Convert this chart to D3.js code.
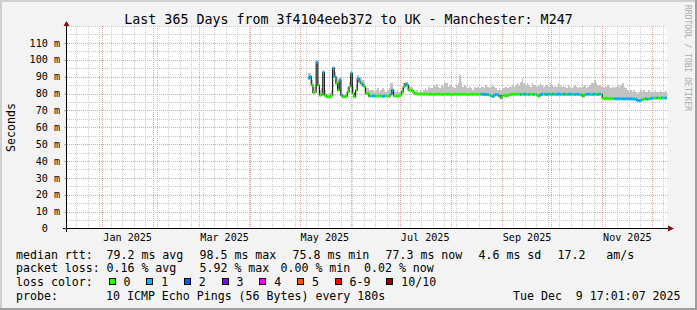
<!DOCTYPE html>
<html><head><meta charset="utf-8">
<script src="https://cdn.jsdelivr.net/npm/d3@7"></script>
<style>
html,body{margin:0;padding:0;background:#f3f3f3;}
svg{display:block;}
text{font-family:"DejaVu Sans Mono",monospace;white-space:pre;}
</style></head><body>
<svg id="chart" width="697" height="310" xml:space="preserve"></svg>
<script>
// ---------------- data ----------------
const title = "Last 365 Days from 3f4104eeb372 to UK - Manchester: M247";
const yAxisLabel = "Seconds";
const watermark = "RRDTOOL / TOBI OETIKER";
const timeStart = "2024-12-10T10:00:00";
const timeEnd = "2025-12-10T10:00:00";
const seriesStart = "2025-05-06T00:00:00";   // one value per day from here
const yTicks = [0,10,20,30,40,50,60,70,80,90,100,110];
const monthTickLabels = ["Jan 2025","Mar 2025","May 2025","Jul 2025","Sep 2025","Nov 2025"];

// median rtt (ms), daily
const median = [
89,90,85,80.5,81,98.5,85,79,79.5,92.5,
79,78,78,78,79,95,90,86,82,88,
79,78,78,78.5,81,84,92,80,78,82,
89,87,86,85,84,80,80,78.5,78.5,78.5,
78.6,78.4,78.5,78.5,78.6,78.3,78.5,78.6,78.5,78.4,
79.5,82,78.6,78.5,78.4,78.6,79,81,84,85.5,
85,82,82,81.5,80.5,79.8,79.7,79.6,79.6,79.7,
79.5,79.6,79.6,79.5,79.6,79.6,79.4,79.5,79.6,79.5,
79.6,79.4,79.5,79.6,79.5,79.6,79.5,79.5,79.4,79.6,
79.5,79.5,79.6,79.4,79.5,79.6,79.5,79.4,79.5,79.6,
79.5,79.6,79.5,79.4,79.6,79.5,79.6,79.3,79.5,79.4,
79.0,78.6,78.2,79.0,79.4,79.2,78.6,77.4,78.8,79.0,
78.6,78.8,79.2,79.4,79.5,79.6,79.5,79.6,79.5,79.4,
79.6,79.5,79.6,79.5,79.4,79.6,79.5,79.4,79.6,79.0,
78.4,79.2,79.5,79.6,79.5,79.4,79.6,79.5,79.5,79.6,
79.4,79.5,79.6,79.5,79.4,79.5,79.6,79.4,79.5,79.6,
79.5,79.5,79.4,79.6,79.5,79.4,79.0,78.4,79.3,79.5,
79.6,79.5,79.4,79.5,79.6,79.5,79.4,79.6,79.5,77.2,
77.0,77.1,76.9,77.0,77.1,77.0,76.9,76.8,76.9,76.8,
76.9,76.8,76.7,76.9,76.8,76.9,76.8,76.7,76.8,76.6,
75.9,75.8,76.0,76.3,76.8,76.9,76.6,76.8,77.0,77.2,
77.3,77.2,77.4,77.3,77.2,77.4,77.3,77.3,77.3
];
// upper edge of the ping smoke (ms), daily
const smokeHigh = [
92,92,88,84,85,100,88,82,83,94,
82,80,80,80.5,82,96,93,90,86,90,
82,80,80,81,84,87,94,84,81,85,
91,90,89,88,87,83,83,82,82,82,
81,82,83,81,82,83,82,81,82,83,
86,86,82,81,82,81,82,83,86,87,
87,85,84,84,82,81,82,81,82,81,
82,83,82,84,83,83,85,84,85.5,84,
83,85,84,86,86.5,84,85,84,84,83,
85,86,91,87,84,85,84,83,84,83,
82,84,83,84,83,84,84,83,85,84,
83,84,85,84,83,82,83,82,83,83,
84,83,84,84,85,84,85,86,85,87,
89,86,85,86,85,84,86,85,85,84,
85,86,85,84,85,85,84,86,85,84,
85,84,86,85,84,85,84,83,85,84,
83,84,85,84,83,84,83,84,85,83,
84,85,86,86,88,86,85,85,84,84,
83,84,85,84,83,84,83,84,85,84,
85,86,84,83,82,81,82,81,82,81,
80,81,82,81,82,81,81,82,81,82,
81,82,81,81,82,81,81,82,81
];
// loss colour class per day (index into lossLabels)
const lossClass = [
1,1,0,0,0,1,0,0,0,1,
0,0,0,0,0,1,1,0,0,1,
1,0,0,0,0,0,1,0,0,0,
1,1,0,1,0,0,0,1,0,1,
1,0,0,0,0,1,1,0,0,0,
1,1,0,0,0,0,0,0,0,1,
1,0,0,0,0,0,0,0,0,0,
0,0,0,0,0,0,0,0,0,0,
0,0,0,0,0,0,0,0,0,0,
0,0,0,0,0,0,0,0,0,0,
0,0,0,0,0,1,1,1,1,1,
0,0,1,1,1,1,1,0,0,0,
0,0,0,0,0,0,0,0,0,1,
0,1,1,0,1,0,0,1,0,0,
0,1,1,0,1,1,1,0,1,1,
0,1,1,1,0,1,1,0,1,1,
1,0,1,1,1,0,1,0,0,1,
1,1,0,1,1,0,1,1,0,0,
0,0,0,0,0,0,1,1,1,1,
1,1,1,1,1,1,1,1,1,1,
1,1,1,0,0,1,1,0,1,1,
0,0,1,0,0,1,0,1,1
];
const lossLabels = ["0","1","2","3","4","5","6-9","10/10"];
const lossColors = ["#26ff00","#00b8ff","#0059ff","#7e00ff","#ff00ff","#ff5500","#ff0000","#a10000"];
const rttValues = [79.2, 98.5, 75.8, 77.3];
const rttKinds = ["avg","max","min","now"];
const rttSd = 4.6;
const rttAmS = 17.2;
const lossValues = [0.16, 5.92, 0.00, 0.02];
const lossKinds = ["avg","max","min","now"];
const probeText = "10 ICMP Echo Pings (56 Bytes) every 180s";
const stampText = "Tue Dec  9 17:01:07 2025";

// ---------------- drawing ----------------
const W = 697, H = 310;
const svg = d3.select("#chart");
const X0 = 67, X1 = 667;
const x = d3.scaleTime().domain([new Date(timeStart), new Date(timeEnd)]).range([X0, X1]);
const y = d3.scaleLinear().domain([0, 120]).range([228.5, 26]);
const px = v => Math.round(v) + 0.5;

// background + frame
svg.append("rect").attr("width", W).attr("height", H).attr("fill", "#f3f3f3");
svg.append("rect").attr("x", 0).attr("y", 0).attr("width", W).attr("height", 2).attr("fill", "#cfcfcf");
svg.append("rect").attr("x", 0).attr("y", 0).attr("width", 2).attr("height", H).attr("fill", "#cfcfcf");
svg.append("rect").attr("x", W - 2).attr("y", 0).attr("width", 2).attr("height", H).attr("fill", "#9e9e9e");
svg.append("rect").attr("x", 0).attr("y", H - 2).attr("width", W).attr("height", 2).attr("fill", "#9e9e9e");

// canvas
const yTop = y(120), yBot = y(0);
svg.append("rect").attr("x", X0).attr("y", Math.round(yTop)).attr("width", X1 - X0)
  .attr("height", Math.round(yBot) - Math.round(yTop)).attr("fill", "#ffffff");

const grid = svg.append("g");
// minor horizontal (every 5 ms)
const minorY = d3.range(5, 121, 5).filter(v => v % 10 !== 0 || v === 120);
grid.selectAll(".hmin").data(minorY).join("line")
  .attr("x1", X0).attr("x2", X1).attr("y1", d => px(y(d))).attr("y2", d => px(y(d)))
  .attr("stroke", "#c8c8c8").attr("stroke-dasharray", "1,1");
// minor vertical (weekly)
const weeks = d3.timeMonday.range(x.domain()[0], x.domain()[1]);
grid.selectAll(".vmin").data(weeks).join("line")
  .attr("x1", d => px(x(d))).attr("x2", d => px(x(d))).attr("y1", Math.round(yTop)).attr("y2", yBot)
  .attr("stroke", "#c8c8c8").attr("stroke-dasharray", "1,1");
// major horizontal
const majorY = yTicks.filter(v => v > 0);
grid.selectAll(".hmaj").data(majorY).join("line")
  .attr("x1", X0 - 2).attr("x2", X1 + 2).attr("y1", d => px(y(d))).attr("y2", d => px(y(d)))
  .attr("stroke", "#f09a9a").attr("stroke-dasharray", "1,1");
// major vertical (monthly)
const months = d3.timeMonth.range(x.domain()[0], x.domain()[1]);
grid.selectAll(".vmaj").data(months).join("line")
  .attr("x1", d => px(x(d))).attr("x2", d => px(x(d))).attr("y1", Math.round(yTop)).attr("y2", yBot)
  .attr("stroke", "#f09a9a").attr("stroke-dasharray", "1,1");

// series
const t0 = new Date(seriesStart);
const days = median.map((_, i) => d3.timeDay.offset(t0, i));
const xs = i => x(days[i]);
const xe = i => Math.min(X1, x(d3.timeDay.offset(days[i], 1)));

// smoke
svg.append("g").selectAll("rect").data(median).join("rect")
  .attr("x", (d, i) => xs(i)).attr("width", (d, i) => xe(i) - xs(i))
  .attr("y", (d, i) => y(smokeHigh[i])).attr("height", (d, i) => Math.max(0, y(d) - y(smokeHigh[i])))
  .attr("fill", "#c2c2c2").attr("shape-rendering", "crispEdges");

// black median line (step)
const pts = median.map((d, i) => [xs(i), y(d)]);
pts.push([xe(median.length - 1), y(median[median.length - 1])]);
svg.append("path").attr("d", d3.line().curve(d3.curveStepAfter)(pts))
  .attr("fill", "none").attr("stroke", "#202020").attr("stroke-width", 1.2);

// coloured median band
svg.append("g").selectAll("rect").data(median).join("rect")
  .attr("x", (d, i) => xs(i)).attr("width", (d, i) => xe(i) - xs(i))
  .attr("y", d => y(d) - 1.5).attr("height", 3)
  .attr("fill", (d, i) => lossColors[lossClass[i]]);

// axes lines
svg.append("line").attr("x1", X0 - 4).attr("x2", X1 + 3).attr("y1", 228.5).attr("y2", 228.5)
  .attr("stroke", "#000").attr("stroke-width", 1);
svg.append("line").attr("x1", 66.5).attr("x2", 66.5).attr("y1", 232).attr("y2", 24)
  .attr("stroke", "#000").attr("stroke-width", 1);
svg.append("path").attr("d", "M668,225.5L674,228.5L668,231.5Z").attr("fill", "#7f1010");
svg.append("path").attr("d", "M63.5,26L66.5,21L69.5,26Z").attr("fill", "#7f1010");

// y axis labels via d3 axis
const yAxis = d3.axisLeft(y).tickValues(yTicks)
  .tickFormat(d => d === 0 ? "0  " : d + " m").tickSize(2).tickPadding(4.5);
const gy = svg.append("g").attr("transform", "translate(66.5,0)").call(yAxis);
gy.select(".domain").remove();
gy.selectAll(".tick line").attr("stroke", "#d08080");
gy.selectAll(".tick text").attr("font-family", "DejaVu Sans Mono").attr("font-size", "10.1px")
  .attr("fill", "#000").attr("xml:space", "preserve");

// x axis labels via d3 axis (labels centred half a month after the month start)
const parseM = d3.timeParse("%b %Y");
const labelDates = monthTickLabels.map(s => d3.timeDay.offset(parseM(s), 15));
const xAxis = d3.axisBottom(x).tickValues(labelDates).tickFormat(d3.timeFormat("%b %Y"))
  .tickSize(0).tickPadding(5);
const gx = svg.append("g").attr("transform", "translate(0,228.5)").call(xAxis);
gx.select(".domain").remove();
gx.selectAll(".tick text").attr("font-family", "DejaVu Sans Mono").attr("font-size", "10.1px").attr("fill", "#000");

// title
svg.append("text").attr("x", 348.5).attr("y", 24).attr("text-anchor", "middle")
  .attr("font-size", "13.3px").attr("fill", "#000").text(title);
// y label
svg.append("text").attr("transform", "translate(15,127.5) rotate(-90)").attr("text-anchor", "middle")
  .attr("font-size", "11.6px").attr("fill", "#000").text(yAxisLabel);
// watermark
svg.append("text").attr("transform", "translate(685,5) rotate(90)")
  .attr("font-size", "8px").attr("fill", "#aaaaaa").text(watermark);

// legend
const CW = 6.98;
const leg = svg.append("g").attr("font-size", "11.6px").attr("fill", "#000");
const row1 = [{t: "median rtt:", x: 16}]
  .concat(rttValues.map((v, i) => ({t: v.toFixed(1) + " ms " + rttKinds[i], x: [106.5, 199.5, 292.5, 385.5][i]})))
  .concat([{t: rttSd.toFixed(1) + " ms sd", x: 478.5}, {t: rttAmS.toFixed(1) + "   am/s", x: 557.5}]);
const row2 = [{t: "packet loss:", x: 16}]
  .concat(lossValues.map((v, i) => ({t: v.toFixed(2) + " % " + lossKinds[i], x: [106.5, 199.5, 280.5, 364][i]})));
leg.selectAll(".r1").data(row1).join("text").attr("x", d => d.x).attr("y", 258.5).text(d => d.t);
leg.selectAll(".r2").data(row2).join("text").attr("x", d => d.x).attr("y", 272).text(d => d.t);
leg.append("text").attr("x", 16).attr("y", 286).text("loss color:");
let cx = 108.5;
const sw = lossLabels.map(l => { const o = {l, x: cx}; cx += 15 + l.length * CW + 15.7; return o; });
leg.selectAll(".sw").data(sw).join("rect")
  .attr("x", d => Math.round(d.x) + 0.5).attr("y", 278.5).attr("width", 6).attr("height", 6)
  .attr("fill", (d, i) => lossColors[i]).attr("stroke", "#000").attr("stroke-width", 1);
leg.selectAll(".swt").data(sw).join("text").attr("x", d => d.x + 15).attr("y", 286).text(d => d.l);
leg.append("text").attr("x", 16).attr("y", 300).text("probe:");
leg.append("text").attr("x", 106).attr("y", 300).text(probeText);
leg.append("text").attr("x", 513).attr("y", 300).text(stampText);
</script>
</body></html>
